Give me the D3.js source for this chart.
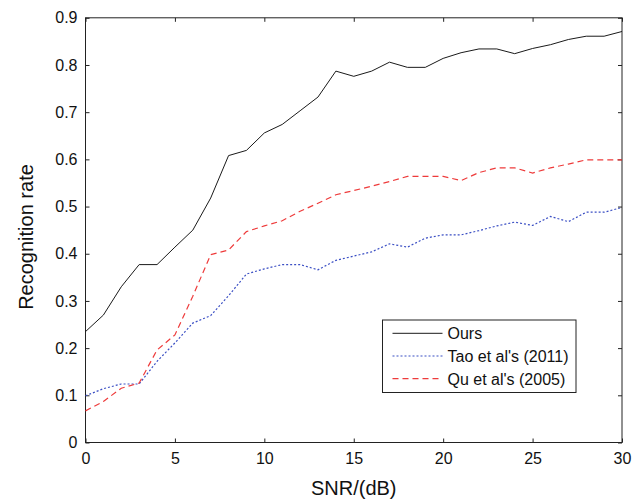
<!DOCTYPE html>
<html>
<head>
<meta charset="utf-8">
<script src="https://cdn.jsdelivr.net/npm/d3@7"></script>
<style>
body { margin: 0; background: #fff; }
svg text { font-family: "Liberation Sans", Arial, sans-serif; fill: #111; }
</style>
</head>
<body>
<div id="chart"></div>
<script>
// SNR values in dB
const snr = d3.range(0, 31);

const ours = [0.235, 0.27, 0.33, 0.377, 0.377, 0.414, 0.45, 0.518, 0.608, 0.619, 0.656,
  0.674, 0.703, 0.732, 0.787, 0.776, 0.787, 0.806, 0.795, 0.795, 0.814,
  0.826, 0.834, 0.834, 0.824, 0.835, 0.843, 0.854, 0.861, 0.861, 0.871];

const tao = [0.099, 0.114, 0.124, 0.124, 0.172, 0.211, 0.253, 0.269, 0.311, 0.357, 0.368,
  0.377, 0.377, 0.366, 0.386, 0.395, 0.404, 0.421, 0.414, 0.433, 0.44,
  0.44, 0.449, 0.459, 0.467, 0.46, 0.479, 0.468, 0.488, 0.488, 0.498];

const qu = [0.067, 0.087, 0.115, 0.126, 0.196, 0.228, 0.31, 0.398, 0.408, 0.447, 0.459,
  0.47, 0.49, 0.507, 0.525, 0.534, 0.543, 0.553, 0.564, 0.564, 0.564,
  0.555, 0.572, 0.582, 0.582, 0.571, 0.582, 0.59, 0.599, 0.599, 0.599];

const seriesNames = ['Ours', "Tao et al's (2011)", "Qu et al's (2005)"];
const xTicks = [0, 5, 10, 15, 20, 25, 30];
const yTicks = [0, 0.1, 0.2, 0.3, 0.4, 0.5, 0.6, 0.7, 0.8, 0.9];

const width = 644, height = 500;
const plotL = 85.5, plotR = 622, plotT = 17.8, plotB = 442.5;

const svg = d3.select('#chart')
  .append('svg')
  .attr('width', width)
  .attr('height', height);

const x = d3.scaleLinear().domain([0, 30]).range([plotL, plotR]);
const y = d3.scaleLinear().domain([0, 0.9]).range([plotB, plotT]);

const styles = [
  {color: '#1a1a1a', dash: null, width: 1},
  {color: '#3b4fc4', dash: '2,2', width: 1.2},
  {color: '#ee3b3b', dash: '6,4', width: 1.2}
];

// inward ticks on all four sides
const axisStyle = g => {
  g.select('.domain').remove();
  g.selectAll('.tick line').attr('stroke', '#222');
  g.selectAll('.tick text').style('font-size', '16px').attr('fill', '#111');
};

svg.append('g')
  .attr('transform', 'translate(0,' + plotB + ')')
  .call(d3.axisBottom(x).tickValues(xTicks).tickSizeInner(-4).tickPadding(10).tickFormat(d3.format('d')))
  .call(axisStyle);

svg.append('g')
  .attr('transform', 'translate(0,' + plotT + ')')
  .call(d3.axisTop(x).tickValues(xTicks).tickSizeInner(-4).tickFormat(''))
  .call(axisStyle);

svg.append('g')
  .attr('transform', 'translate(' + plotL + ',0)')
  .call(d3.axisLeft(y).tickValues(yTicks).tickSizeInner(-4).tickPadding(8).tickFormat(d => d === 0 ? '0' : d3.format('.1f')(d)))
  .call(axisStyle);

svg.append('g')
  .attr('transform', 'translate(' + plotR + ',0)')
  .call(d3.axisRight(y).tickValues(yTicks).tickSizeInner(-4).tickFormat(''))
  .call(axisStyle);

svg.append('rect')
  .attr('x', plotL).attr('y', plotT)
  .attr('width', plotR - plotL).attr('height', plotB - plotT)
  .attr('fill', 'none').attr('stroke', '#222').attr('stroke-width', 1);

const line = d3.line()
  .x((d, i) => x(snr[i]))
  .y(d => y(d));

[ours, tao, qu].forEach((s, i) => {
  svg.append('path')
    .datum(s)
    .attr('d', line)
    .attr('fill', 'none')
    .attr('stroke', styles[i].color)
    .attr('stroke-width', styles[i].width)
    .attr('stroke-dasharray', styles[i].dash);
});

// legend
const lg = svg.append('g').attr('transform', 'translate(382.5,320)');
lg.append('rect')
  .attr('width', 193.5).attr('height', 72.5)
  .attr('fill', '#fff').attr('stroke', '#222').attr('stroke-width', 1);

seriesNames.forEach((name, i) => {
  const yy = 13.3 + i * 22.7;
  lg.append('line')
    .attr('x1', 10).attr('x2', 60)
    .attr('y1', yy).attr('y2', yy)
    .attr('stroke', styles[i].color)
    .attr('stroke-width', styles[i].width)
    .attr('stroke-dasharray', styles[i].dash);
  lg.append('text')
    .attr('x', 65).attr('y', yy + 6)
    .style('font-size', '16px')
    .text(name);
});

svg.append('text')
  .attr('x', (plotL + plotR) / 2)
  .attr('y', 495)
  .style('text-anchor', 'middle')
  .style('font-size', '20px')
  .text('SNR/(dB)');

svg.append('text')
  .attr('transform', 'translate(33,237) rotate(-90)')
  .style('text-anchor', 'middle')
  .style('font-size', '20px')
  .text('Recognition rate');
</script>
</body>
</html>
